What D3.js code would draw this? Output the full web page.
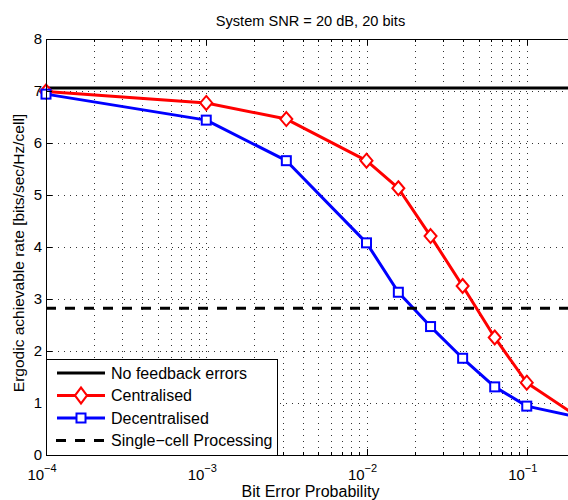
<!DOCTYPE html>
<html>
<head>
<meta charset="utf-8">
<script src="https://cdn.jsdelivr.net/npm/d3@7"></script>
<style>
  html, body { margin: 0; padding: 0; background: #fff; overflow: hidden; }
  svg { display: block; font-family: "Liberation Sans", Arial, Helvetica, sans-serif; }
</style>
</head>
<body>
<svg id="chart" width="568" height="500"></svg>
<script>
// Bit error probabilities at which the schemes were evaluated
const berValues = [1e-4, 1e-3, 3.16e-3, 1e-2, 1.58e-2, 2.51e-2, 3.98e-2, 6.31e-2, 1e-1, 2e-1];
// Ergodic achievable rate [bits/sec/Hz/cell]
const centralised   = [6.99, 6.77, 6.46, 5.66, 5.13, 4.21, 3.25, 2.26, 1.39, 0.77];
const decentralised = [6.94, 6.44, 5.66, 4.08, 3.13, 2.47, 1.86, 1.31, 0.94, 0.74];
// Reference levels
const noFeedbackErrors = 7.06;
const singleCell = 2.82;

const xMajorTicks = [1e-4, 1e-3, 1e-2, 1e-1];
const xTickExponents = ["\u22124", "\u22123", "\u22122", "\u22121"];
const yTicks = [0, 1, 2, 3, 4, 5, 6, 7, 8];
const legendLabels = ["No feedback errors", "Centralised", "Decentralised", "Single\u2212cell Processing"];

const svg = d3.select("#chart");
const mLeft = 46, mRight = 575, mTop = 39, mBottom = 455;

const x = d3.scaleLog().domain([1e-4, 0.2]).range([mLeft, mRight]);
const y = d3.scaleLinear().domain([0, 8]).range([mBottom, mTop]);

// minor decade ticks 2..9 inside the domain
const xMinor = [];
for (let e = -4; e <= -1; e++) {
  for (let k = 2; k <= 9; k++) {
    const v = k * Math.pow(10, e);
    if (v <= 0.2 + 1e-12) xMinor.push(v);
  }
}

// background
svg.append("rect").attr("x", mLeft).attr("y", mTop)
  .attr("width", mRight - mLeft).attr("height", mBottom - mTop).attr("fill", "#fff");

// dotted grid
const grid = svg.append("g").attr("stroke", "#333").attr("stroke-width", 1)
  .attr("stroke-dasharray", "1,5").attr("shape-rendering", "crispEdges");
grid.selectAll("line.vx").data(xMajorTicks.concat(xMinor)).join("line")
  .attr("x1", d => Math.round(x(d)) + 0.5).attr("x2", d => Math.round(x(d)) + 0.5)
  .attr("y1", mTop).attr("y2", mBottom);
grid.selectAll("line.hy").data(yTicks.slice(1, -1)).join("line")
  .attr("x1", mLeft).attr("x2", mRight)
  .attr("y1", d => Math.round(y(d)) + 0.5).attr("y2", d => Math.round(y(d)) + 0.5);

const plot = svg.append("g");

// no feedback errors reference
plot.append("line").attr("x1", mLeft).attr("x2", mRight)
  .attr("y1", y(noFeedbackErrors)).attr("y2", y(noFeedbackErrors))
  .attr("stroke", "#000").attr("stroke-width", 3);

const line = d3.line().x(d => x(d[0])).y(d => y(d[1]));
const diamondPath = "M0,-7L6,0L0,7L-6,0Z";

function drawSeries(values, color, shape) {
  const pts = berValues.map((b, i) => [b, values[i]]);
  plot.append("path").datum(pts).attr("d", line)
    .attr("fill", "none").attr("stroke", color).attr("stroke-width", 3)
    .attr("stroke-linejoin", "round");
  const g = plot.append("g");
  pts.forEach(p => {
    const m = g.append("g").attr("transform", `translate(${x(p[0])},${y(p[1])})`);
    if (shape === "diamond") {
      m.append("path").attr("d", diamondPath).attr("fill", "#fff")
        .attr("stroke", color).attr("stroke-width", 2);
    } else {
      m.append("rect").attr("x", -4.5).attr("y", -4.5).attr("width", 9).attr("height", 9)
        .attr("fill", "#fff").attr("stroke", color).attr("stroke-width", 2);
    }
  });
}
drawSeries(centralised, "#ff0000", "diamond");
drawSeries(decentralised, "#0000ff", "square");

// single-cell processing reference
plot.append("line").attr("x1", mLeft).attr("x2", mRight)
  .attr("y1", y(singleCell)).attr("y2", y(singleCell))
  .attr("stroke", "#000").attr("stroke-width", 3).attr("stroke-dasharray", "10,9");

// axes box and inward ticks
const ax = svg.append("g").attr("stroke", "#000").attr("stroke-width", 1)
  .attr("shape-rendering", "crispEdges");
ax.append("rect").attr("x", mLeft + 0.5).attr("y", mTop + 0.5)
  .attr("width", mRight - mLeft).attr("height", mBottom - mTop).attr("fill", "none");
xMajorTicks.forEach(v => {
  const px = Math.round(x(v)) + 0.5;
  ax.append("line").attr("x1", px).attr("x2", px).attr("y1", mBottom).attr("y2", mBottom - 6);
  ax.append("line").attr("x1", px).attr("x2", px).attr("y1", mTop).attr("y2", mTop + 6);
});
xMinor.forEach(v => {
  const px = Math.round(x(v)) + 0.5;
  ax.append("line").attr("x1", px).attr("x2", px).attr("y1", mBottom).attr("y2", mBottom - 3);
  ax.append("line").attr("x1", px).attr("x2", px).attr("y1", mTop).attr("y2", mTop + 3);
});
yTicks.forEach(v => {
  const py = Math.round(y(v)) + 0.5;
  ax.append("line").attr("x1", mLeft).attr("x2", mLeft + 6).attr("y1", py).attr("y2", py);
  ax.append("line").attr("x1", mRight).attr("x2", mRight - 6).attr("y1", py).attr("y2", py);
});

// tick labels
const lab = svg.append("g").attr("fill", "#000").attr("font-size", 15);
yTicks.forEach(v => {
  lab.append("text").attr("x", mLeft - 4).attr("y", y(v) + 5)
    .attr("text-anchor", "end").text(v);
});
xMajorTicks.forEach((v, i) => {
  const t = lab.append("text").attr("x", x(v) - 4).attr("y", 480).attr("text-anchor", "middle");
  t.append("tspan").text("10");
  t.append("tspan").attr("font-size", 11).attr("dy", -8).text(xTickExponents[i]);
});

// titles
svg.append("text").attr("x", (mLeft + mRight) / 2).attr("y", 26)
  .attr("text-anchor", "middle").attr("font-size", 14.6).text("System SNR = 20 dB, 20 bits");
svg.append("text").attr("x", (mLeft + mRight) / 2).attr("y", 497)
  .attr("text-anchor", "middle").attr("font-size", 16).text("Bit Error Probability");
svg.append("text").attr("transform", `translate(24,${(mTop + mBottom) / 2 + 6}) rotate(-90)`)
  .attr("text-anchor", "middle").attr("font-size", 15.5)
  .text("Ergodic achievable rate [bits/sec/Hz/cell]");

// legend
const lg = svg.append("g");
lg.append("rect").attr("x", mLeft + 0.5).attr("y", 359.5).attr("width", 231).attr("height", 96)
  .attr("fill", "#fff").attr("stroke", "#000").attr("stroke-width", 1)
  .attr("shape-rendering", "crispEdges");
const rowY = [373, 395.5, 418, 440.5];
const styles = [
  { color: "#000", dash: null, shape: null },
  { color: "#ff0000", dash: null, shape: "diamond" },
  { color: "#0000ff", dash: null, shape: "square" },
  { color: "#000", dash: "10,9", shape: null }
];
legendLabels.forEach((name, i) => {
  const s = styles[i];
  const yy = rowY[i];
  const l = lg.append("line").attr("x1", 57).attr("x2", 105).attr("y1", yy).attr("y2", yy)
    .attr("stroke", s.color).attr("stroke-width", 3);
  if (s.dash) l.attr("stroke-dasharray", s.dash).attr("x1", 56);
  if (s.shape === "diamond") {
    lg.append("path").attr("transform", `translate(81,${yy}) scale(1,1.15)`).attr("d", diamondPath)
      .attr("fill", "#fff").attr("stroke", s.color).attr("stroke-width", 2);
  } else if (s.shape === "square") {
    lg.append("rect").attr("x", 76.5).attr("y", yy - 4.5).attr("width", 9).attr("height", 9)
      .attr("fill", "#fff").attr("stroke", s.color).attr("stroke-width", 2);
  }
  lg.append("text").attr("x", 111).attr("y", yy + 5.5).attr("font-size", 16).text(name);
});
</script>
</body>
</html>
